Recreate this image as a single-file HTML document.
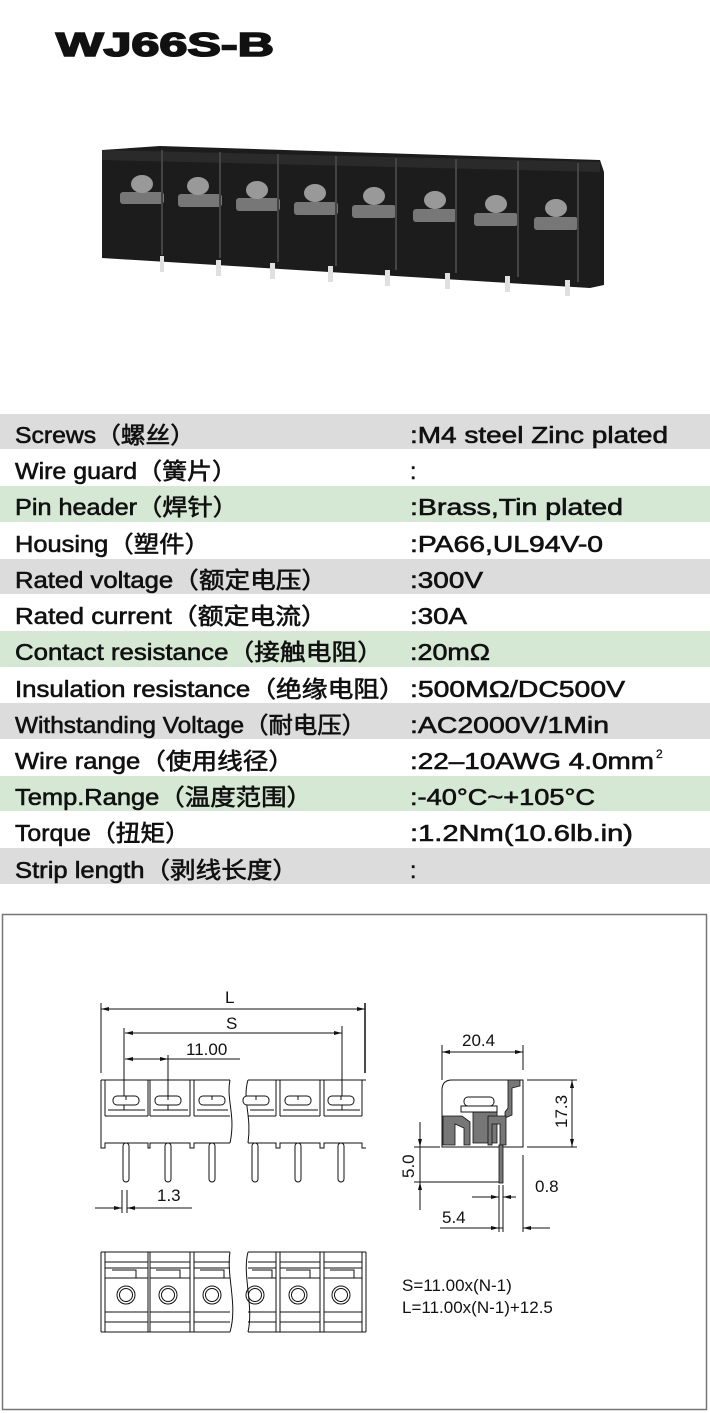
<!DOCTYPE html>
<html><head><meta charset="utf-8"><style>
html,body{margin:0;padding:0;background:#fff;width:710px;height:1413px;overflow:hidden}
svg{display:block}
.t{font-family:"Liberation Sans","Noto Sans CJK SC",sans-serif;font-size:23px;font-weight:normal;fill:#111;stroke:#111;stroke-width:0.6}
.d{font-family:"Liberation Sans",sans-serif;font-size:17px;fill:#111}
</style></head><body>
<svg width="710" height="1413" viewBox="0 0 710 1413" xmlns="http://www.w3.org/2000/svg">
<text x="56" y="56" font-family="Liberation Sans,sans-serif" font-weight="bold" font-size="33" stroke="#111" stroke-width="1.6" fill="#111" textLength="218" lengthAdjust="spacingAndGlyphs">WJ66S-B</text>

<!-- photo -->
<g>
<polygon points="102,150 160,146 600,160 604,172 604,285 590,288 102,258" fill="#1c1c1c"/>
<polygon points="102,150 600,162 600,172 102,160" fill="#2a2a2a"/>
<g fill="#e0e0e0">
<rect x="160" y="256" width="4" height="16"/><rect x="216" y="260" width="5" height="16"/>
<rect x="270" y="263" width="5" height="16"/><rect x="328" y="266" width="5" height="16"/>
<rect x="385" y="270" width="5" height="16"/><rect x="445" y="273" width="5" height="16"/>
<rect x="505" y="276" width="5" height="16"/><rect x="565" y="280" width="5" height="16"/>
</g>
<g fill="#777">
<rect x="120" y="192" width="44" height="12" rx="3"/><rect x="178" y="194" width="44" height="13" rx="3"/>
<rect x="236" y="198" width="44" height="13" rx="3"/><rect x="294" y="202" width="44" height="13" rx="3"/>
<rect x="352" y="205" width="44" height="13" rx="3"/><rect x="413" y="209" width="44" height="13" rx="3"/>
<rect x="474" y="213" width="44" height="13" rx="3"/><rect x="534" y="217" width="44" height="13" rx="3"/>
</g>
<g fill="#999">
<ellipse cx="142" cy="184" rx="11" ry="9"/><ellipse cx="198" cy="186" rx="11" ry="9"/>
<ellipse cx="257" cy="190" rx="11" ry="9"/><ellipse cx="315" cy="193" rx="11" ry="9"/>
<ellipse cx="374" cy="196" rx="11" ry="9"/><ellipse cx="435" cy="200" rx="11" ry="9"/>
<ellipse cx="496" cy="204" rx="11" ry="9"/><ellipse cx="556" cy="208" rx="11" ry="9"/>
</g>
<g stroke="#444" stroke-width="2">
<line x1="162" y1="150" x2="162" y2="255"/><line x1="220" y1="152" x2="220" y2="258"/>
<line x1="278" y1="154" x2="278" y2="262"/><line x1="336" y1="156" x2="336" y2="266"/>
<line x1="396" y1="158" x2="396" y2="270"/><line x1="456" y1="159" x2="456" y2="273"/>
<line x1="518" y1="161" x2="518" y2="277"/><line x1="578" y1="163" x2="578" y2="282"/>
</g>
</g>

<!-- table -->
<g>
<rect x="0" y="414" width="710" height="35" fill="#dcdcdc"/>
<rect x="0" y="486" width="710" height="36" fill="#d5e8d4"/>
<rect x="0" y="559" width="710" height="35" fill="#dcdcdc"/>
<rect x="0" y="631" width="710" height="36" fill="#d5e8d4"/>
<rect x="0" y="703" width="710" height="36" fill="#dcdcdc"/>
<rect x="0" y="776" width="710" height="35" fill="#d5e8d4"/>
<rect x="0" y="848" width="710" height="36" fill="#dcdcdc"/>
</g>
<g class="t">
<text x="15" y="443" textLength="180" lengthAdjust="spacingAndGlyphs">Screws（螺丝）</text>
<text x="15" y="479" textLength="222" lengthAdjust="spacingAndGlyphs">Wire guard（簧片）</text>
<text x="15" y="515" textLength="223" lengthAdjust="spacingAndGlyphs">Pin header（焊针）</text>
<text x="15" y="552" textLength="195" lengthAdjust="spacingAndGlyphs">Housing（塑件）</text>
<text x="15" y="588" textLength="312" lengthAdjust="spacingAndGlyphs">Rated voltage（额定电压）</text>
<text x="15" y="624" textLength="312" lengthAdjust="spacingAndGlyphs">Rated current（额定电流）</text>
<text x="15" y="660" textLength="368" lengthAdjust="spacingAndGlyphs">Contact resistance（接触电阻）</text>
<text x="15" y="697" textLength="390" lengthAdjust="spacingAndGlyphs">Insulation resistance（绝缘电阻）</text>
<text x="15" y="733" textLength="351" lengthAdjust="spacingAndGlyphs">Withstanding Voltage（耐电压）</text>
<text x="15" y="769" textLength="279" lengthAdjust="spacingAndGlyphs">Wire range（使用线径）</text>
<text x="15" y="805" textLength="297" lengthAdjust="spacingAndGlyphs">Temp.Range（温度范围）</text>
<text x="15" y="841" textLength="175" lengthAdjust="spacingAndGlyphs">Torque（扭矩）</text>
<text x="15" y="878" textLength="283" lengthAdjust="spacingAndGlyphs">Strip length（剥线长度）</text>

<text x="410" y="443" textLength="258" lengthAdjust="spacingAndGlyphs">:M4 steel Zinc plated</text>
<text x="410" y="479">:</text>
<text x="410" y="515" textLength="213" lengthAdjust="spacingAndGlyphs">:Brass,Tin plated</text>
<text x="410" y="552" textLength="193" lengthAdjust="spacingAndGlyphs">:PA66,UL94V-0</text>
<text x="410" y="588" textLength="73" lengthAdjust="spacingAndGlyphs">:300V</text>
<text x="410" y="624" textLength="57" lengthAdjust="spacingAndGlyphs">:30A</text>
<text x="410" y="660" textLength="80" lengthAdjust="spacingAndGlyphs">:20mΩ</text>
<text x="410" y="697" textLength="215" lengthAdjust="spacingAndGlyphs">:500MΩ/DC500V</text>
<text x="410" y="733" textLength="199" lengthAdjust="spacingAndGlyphs">:AC2000V/1Min</text>
<text x="410" y="769" textLength="244" lengthAdjust="spacingAndGlyphs">:22–10AWG 4.0mm</text>
<text x="656" y="758" font-size="12" stroke-width="0.3">2</text>
<text x="410" y="805" textLength="185" lengthAdjust="spacingAndGlyphs">:-40°C~+105°C</text>
<text x="410" y="841" textLength="223" lengthAdjust="spacingAndGlyphs">:1.2Nm(10.6lb.in)</text>
<text x="410" y="878">:</text>
</g>

<!-- drawing box -->
<rect x="2.5" y="914.5" width="704" height="495" fill="none" stroke="#777" stroke-width="1.5"/>

<g stroke="#111" stroke-width="1" fill="none">
<line x1="101" y1="1003" x2="101" y2="1073"/><line x1="365" y1="1003" x2="365" y2="1073" stroke-width="1.5"/>
<line x1="101" y1="1009" x2="365" y2="1009"/>
<line x1="124" y1="1028" x2="124" y2="1110"/><line x1="342" y1="1026" x2="342" y2="1110"/>
<line x1="125" y1="1033" x2="342" y2="1033"/>
<line x1="168" y1="1055" x2="168" y2="1110"/>
<line x1="125" y1="1059" x2="240" y2="1059"/>
<path d="M101,1080 H230 M248,1080 H366"/>
<path d="M101,1080 V1148 H105 V1143 H148 V1148 H150 V1143 H190 V1148 H194 V1143 H230"/>
<path d="M248,1143 H276 V1148 H280 V1143 H320 V1148 H324 V1143 H362 V1148 H366"/>
<path d="M230,1080 C226,1100 236,1115 230,1143"/>
<path d="M248,1080 C242,1100 252,1115 248,1143"/>
<path d="M105,1080 V1116 M148,1080 V1116 M150,1080 V1116 M190,1080 V1116 M194,1080 V1116 M276,1080 V1116 M280,1080 V1116 M320,1080 V1116 M324,1080 V1116 M362,1080 V1116"/>
<path d="M105,1116 H148 M150,1116 H190 M194,1116 H230 M248,1116 H276 M280,1116 H320 M324,1116 H362"/>
<path d="M108,1110 H145 M153,1110 H188 M197,1110 H228 M250,1110 H274 M283,1110 H318 M327,1110 H360"/>
</g>
<g stroke="#111" fill="#fff" stroke-width="1">
<rect x="113" y="1096" width="26" height="9" rx="4"/><rect x="155" y="1096" width="26" height="9" rx="4"/>
<rect x="199" y="1096" width="26" height="9" rx="4"/><rect x="243" y="1096" width="26" height="9" rx="4"/>
<rect x="285" y="1096" width="26" height="9" rx="4"/><rect x="328" y="1096" width="26" height="9" rx="4"/>
<path d="M126,1096 V1100 M168,1096 V1100 M212,1096 V1100 M256,1096 V1100 M298,1096 V1100 M341,1096 V1100" fill="none"/>
<rect x="123" y="1143" width="6" height="39" rx="3"/><rect x="165" y="1143" width="6" height="39" rx="3"/>
<rect x="209" y="1143" width="6" height="39" rx="3"/><rect x="252" y="1143" width="6" height="39" rx="3"/>
<rect x="295" y="1143" width="6" height="39" rx="3"/><rect x="338" y="1143" width="6" height="39" rx="3"/>
</g>
<g stroke="#111" stroke-width="1" fill="none">
<line x1="122" y1="1190" x2="122" y2="1213"/><line x1="127" y1="1190" x2="127" y2="1213"/>
<line x1="95" y1="1208" x2="122" y2="1208"/><line x1="127" y1="1208" x2="192" y2="1208"/>
</g>
<g fill="#111">
<path d="M101,1009 l8,-2 v4z"/><path d="M365,1009 l-8,-2 v4z"/>
<path d="M125,1033 l8,-2 v4z"/><path d="M342,1033 l-8,-2 v4z"/>
<path d="M125,1059 l8,-2 v4z"/><path d="M168,1059 l-8,-2 v4z"/>
<path d="M122,1208 l-8,-2 v4z"/><path d="M127,1208 l8,-2 v4z"/>
</g>
<g class="d" font-size="18">
<text x="225" y="1003">L</text>
<text x="226" y="1029">S</text>
<text x="186" y="1055">11.00</text>
<text x="157" y="1201">1.3</text>
</g>

<g stroke="#111" stroke-width="1" fill="none">
<line x1="442" y1="1045" x2="442" y2="1080"/><line x1="523" y1="1045" x2="523" y2="1070"/>
<line x1="442" y1="1052" x2="523" y2="1052"/>
<path d="M442,1147 V1090 Q442,1080 452,1080 H523 V1147 Z"/>
<line x1="527" y1="1080" x2="577" y2="1080"/><line x1="527" y1="1147" x2="577" y2="1147"/>
<line x1="572" y1="1080" x2="572" y2="1147"/>
<line x1="414" y1="1147" x2="440" y2="1147"/><line x1="414" y1="1182" x2="500" y2="1182"/>
<line x1="420" y1="1122" x2="420" y2="1210"/>
<line x1="499" y1="1185" x2="499" y2="1232"/><line x1="503" y1="1185" x2="503" y2="1232"/>
<line x1="472" y1="1197" x2="499" y2="1197"/><line x1="503" y1="1197" x2="516" y2="1197"/>
<line x1="523" y1="1155" x2="523" y2="1232"/>
<line x1="440" y1="1228" x2="503" y2="1228"/><line x1="523" y1="1228" x2="550" y2="1228"/>
</g>
<g fill="#777" stroke="#111" stroke-width="0.8">
<path d="M508,1080 H520 V1086 L512,1088 V1115 L505,1118 V1112 L508,1108 Z"/>
<path d="M443,1116 H462 L470,1122 V1145 H464 V1128 L455,1124 V1145 H443 Z"/>
<path d="M473,1112 H497 V1143 H473 Z"/>
<path d="M488,1116 H506 V1145 H500 V1124 H492 V1145 H488 Z"/>
<rect x="499" y="1145" width="4" height="38"/>
</g>
<g stroke="#111" fill="#fff" stroke-width="1">
<rect x="464" y="1097" width="30" height="9" rx="4"/>
<rect x="461" y="1106" width="36" height="6"/>
</g>
<g fill="#111">
<path d="M442,1052 l8,-2 v4z"/><path d="M523,1052 l-8,-2 v4z"/>
<path d="M572,1080 l-2,8 h4z"/><path d="M572,1147 l-2,-8 h4z"/>
<path d="M420,1147 l-2,-8 h4z"/><path d="M420,1182 l-2,8 h4z"/>
<path d="M499,1197 l-8,-2 v4z"/><path d="M503,1197 l8,-2 v4z"/>
<path d="M499,1228 l-8,-2 v4z"/><path d="M523,1228 l8,-2 v4z"/>
</g>
<g class="d" font-size="18">
<text x="462" y="1046">20.4</text>
<text x="0" y="0" transform="translate(567,1128) rotate(-90)">17.3</text>
<text x="0" y="0" transform="translate(414,1178) rotate(-90)">5.0</text>
<text x="535" y="1192">0.8</text>
<text x="442" y="1223">5.4</text>
</g>

<g stroke="#111" stroke-width="1" fill="none">
<path d="M101,1252 H230 M248,1252 H366 M101,1332 H230 M248,1332 H366 M101,1252 V1332 M366,1252 V1332"/>
<path d="M230,1252 C226,1275 238,1305 230,1332 M248,1252 C242,1275 254,1305 248,1332"/>
<path d="M105,1252 V1332 M148,1252 V1332 M150,1252 V1332 M190,1252 V1332 M194,1252 V1332 M276,1252 V1332 M280,1252 V1332 M320,1252 V1332 M324,1252 V1332 M362,1252 V1332"/>
<path d="M105,1262 H148 M150,1262 H190 M194,1262 H230 M248,1262 H276 M280,1262 H320 M324,1262 H362"/>
<path d="M105,1268 H148 M150,1268 H190 M194,1268 H230 M248,1268 H276 M280,1268 H320 M324,1268 H362"/>
<path d="M105,1278 H148 M150,1278 H190 M194,1278 H230 M248,1278 H276 M280,1278 H320 M324,1278 H362"/>
<path d="M105,1312 H148 M150,1312 H190 M194,1312 H230 M248,1312 H276 M280,1312 H320 M324,1312 H362"/>
<path d="M105,1322 H148 M150,1322 H190 M194,1322 H230 M248,1322 H276 M280,1322 H320 M324,1322 H362"/>
<path d="M112,1270 h24 v8 M156,1270 h24 v8 M200,1270 h24 v8 M252,1270 h20 v8 M286,1270 h24 v8 M330,1270 h24 v8"/>
<circle cx="126" cy="1295" r="9"/><circle cx="126" cy="1295" r="6.5"/>
<circle cx="168" cy="1295" r="9"/><circle cx="168" cy="1295" r="6.5"/>
<circle cx="212" cy="1295" r="9"/><circle cx="212" cy="1295" r="6.5"/>
<circle cx="255" cy="1295" r="9"/><circle cx="255" cy="1295" r="6.5"/>
<circle cx="298" cy="1295" r="9"/><circle cx="298" cy="1295" r="6.5"/>
<circle cx="341" cy="1295" r="9"/><circle cx="341" cy="1295" r="6.5"/>
</g>
<g class="d">
<text x="402" y="1291">S=11.00x(N-1)</text>
<text x="402" y="1313">L=11.00x(N-1)+12.5</text>
</g>
</svg>
</body></html>
